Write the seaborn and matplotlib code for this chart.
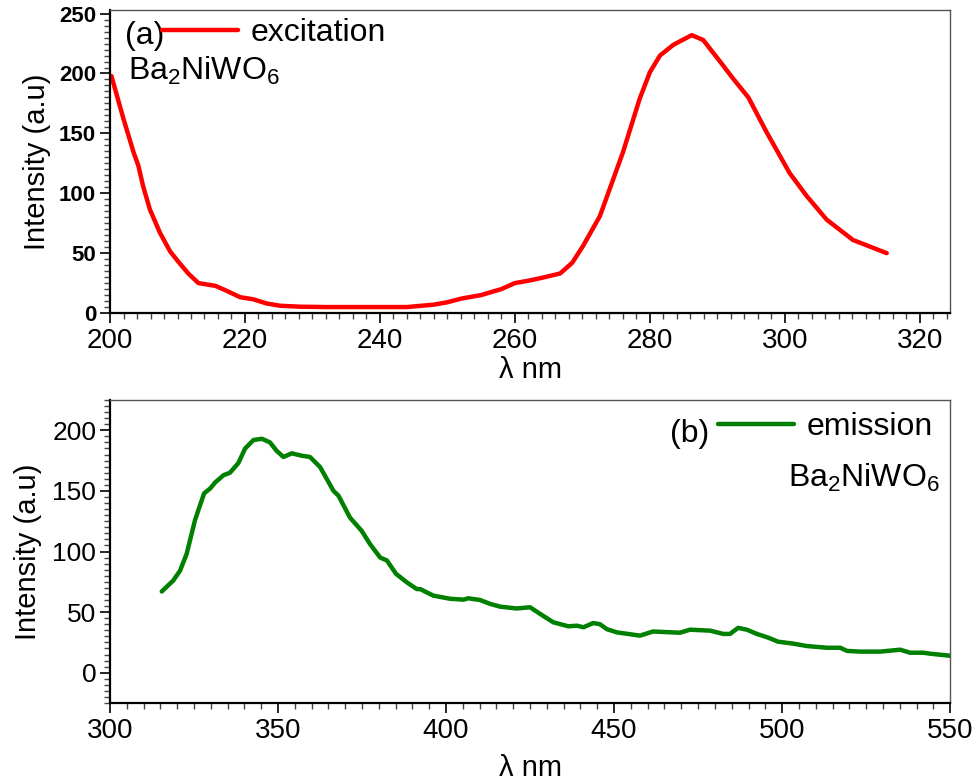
import matplotlib
matplotlib.use("Agg")
import matplotlib.pyplot as plt
import seaborn as sns
import numpy as np
import pandas as pd
from matplotlib.ticker import MultipleLocator
from matplotlib.lines import Line2D

# ---- data ----
exc_wl = [200.2, 202.0, 203.5, 204.2, 204.9, 205.9, 207.4, 208.9, 210.1, 211.6, 213.1,
          215.6, 217.0, 219.3, 221.2, 223.2, 225.2, 228.1, 232, 236, 240, 244, 248, 250,
          252, 255, 258, 260, 262, 263.7, 266.7, 268.5, 270.1, 272.6, 276.0, 278.5, 280.0,
          281.5, 283.5, 286.2, 287.9, 290.4, 292.3, 294.6, 297.3, 300.7, 303.2, 306.2,
          310.1, 315.1]
exc_int = [198, 162, 134, 123, 106, 86.6, 67, 51.5, 43, 33, 25,
           22.7, 19.3, 13.2, 11.5, 8, 6.1, 5.3, 5, 5, 5, 5, 7, 9,
           12, 15, 20, 25, 27, 29, 33, 42, 56, 81, 134, 179, 201,
           215, 224, 232, 228, 210, 196, 180, 151, 117, 98, 78,
           61, 50]

em_wl = [315.4, 316.9, 318.8, 320.8, 322.8, 325.3, 328, 329.8, 331.3, 333.8, 335.7, 338.2,
         340.2, 342.7, 345.2, 347.6, 349.6, 351.6, 354.1, 357.1, 359.5, 362.5, 366.5, 368.0,
         371.4, 374.9, 377.4, 380.4, 382.4, 385.1, 388.3, 391.3, 392.3, 396.2, 401.2, 405.2,
         406.6, 410.1, 413.1, 416.1, 421.0, 425.0, 428.0, 431.9, 436.4, 438.9, 440.9, 443.8,
         445.8, 447.8, 450.8, 457.7, 461.6, 469.6, 472.6, 478.6, 482.5, 484.5, 486.9, 489.5,
         492.5, 495.8, 498.8, 503.3, 507.4, 513.3, 517.3, 519.3, 523.2, 529.2, 535.1, 538.1,
         542, 544, 550]
em_int = [67, 71, 76, 84, 98, 126, 148, 152, 157, 163, 165, 173,
          185, 192, 193, 190, 183, 178, 181, 179, 178, 169.7, 150, 146,
          128, 117, 106, 95, 92.6, 81.6, 74.6, 69, 69, 63.6, 61, 60.3,
          61.4, 60, 56.8, 54.5, 53, 54, 48.5, 41.6, 38.3, 38.8, 37.5, 41,
          40, 36, 33.3, 30.6, 34, 33, 35.5, 34.7, 32, 32, 37, 35.5,
          32, 29, 25.6, 24, 22, 20.6, 20.6, 18, 17.4, 17.4, 19, 16.5,
          16.5, 15.7, 14]

exc_xticks = [200, 220, 240, 260, 280, 300, 320]
exc_yticks = [0, 50, 100, 150, 200, 250]
em_xticks = [300, 350, 400, 450, 500, 550]
em_yticks = [0, 50, 100, 150, 200]

# ---- style ----
sns.set_style("ticks")
plt.rcParams['font.family'] = ['Liberation Sans', 'DejaVu Sans']
plt.rcParams['mathtext.fontset'] = 'custom'
plt.rcParams['mathtext.rm'] = 'Liberation Sans'
plt.rcParams['mathtext.it'] = 'Liberation Sans:italic'
plt.rcParams['text.color'] = 'black'
plt.rcParams['axes.labelcolor'] = 'black'
plt.rcParams['xtick.color'] = 'black'
plt.rcParams['ytick.color'] = 'black'

fig = plt.figure(figsize=(9.78, 7.82), dpi=100)
ax1 = fig.add_axes([0.1125, 0.5997, 0.859, 0.3875])
ax2 = fig.add_axes([0.1125, 0.101, 0.859, 0.3875])

df1 = pd.DataFrame({"wl": exc_wl, "I": exc_int})
df2 = pd.DataFrame({"wl": em_wl, "I": em_int})
sns.lineplot(data=df1, x="wl", y="I", ax=ax1, color="#ff0000", lw=3.2)
sns.lineplot(data=df2, x="wl", y="I", ax=ax2, color="#008000", lw=3.2)


def style(ax, xlim, ylim, xt, yt, xminor, yminor, bold_y, xlabelpad, ylabelpad):
    ax.set_xlim(*xlim)
    ax.set_ylim(*ylim)
    ax.set_xticks(xt)
    ax.set_yticks(yt)
    ax.xaxis.set_minor_locator(MultipleLocator(xminor))
    ax.yaxis.set_minor_locator(MultipleLocator(yminor))
    ax.tick_params(which='major', direction='out', length=7, width=1.2, color='black')
    ax.tick_params(which='minor', direction='out', length=4, width=1.0, color='#444444')
    ax.tick_params(axis='x', labelsize=20, pad=4)
    ax.tick_params(axis='y', labelsize=16 if bold_y else 19, pad=3)
    if bold_y:
        for lab in ax.get_yticklabels():
            lab.set_fontweight('bold')
    for s in ['left', 'bottom']:
        ax.spines[s].set_color('black')
        ax.spines[s].set_linewidth(1.6)
    for s in ['top', 'right']:
        ax.spines[s].set_visible(True)
        ax.spines[s].set_color('#555555')
        ax.spines[s].set_linewidth(1.0)
    ax.set_xlabel("λ nm", fontsize=21, labelpad=xlabelpad)
    ax.set_ylabel("Intensity (a.u)", fontsize=21, labelpad=ylabelpad)


style(ax1, (200, 324.5), (0, 253), exc_xticks, exc_yticks, 2, 5, True, 1, 6)
style(ax2, (300, 550), (-25, 225), em_xticks, em_yticks, 5, 5, False, 7, 7)

FS = 23
# annotations panel (a)
ax1.text(0.018, 0.887, "(a)", transform=ax1.transAxes, fontsize=FS, va='baseline', ha='left')
ax1.legend(handles=[Line2D([], [], color="#ff0000", lw=3.2)], labels=["excitation"],
           loc='center left', bbox_to_anchor=(0.062, 0.925), frameon=False,
           fontsize=FS, handlelength=2.38, handletextpad=0.38, borderaxespad=0, borderpad=0)
ax1.text(0.021, 0.769, "Ba$_\\mathregular{2}$NiWO$_\\mathregular{6}$", transform=ax1.transAxes,
         fontsize=FS, va='baseline', ha='left')

# annotations panel (b)
ax2.text(0.667, 0.862, "(b)", transform=ax2.transAxes, fontsize=FS, va='baseline', ha='left')
ax2.legend(handles=[Line2D([], [], color="#008000", lw=3.2)], labels=["emission"],
           loc='center left', bbox_to_anchor=(0.724, 0.91), frameon=False,
           fontsize=FS, handlelength=2.38, handletextpad=0.38, borderaxespad=0, borderpad=0)
ax2.text(0.988, 0.714, "Ba$_\\mathregular{2}$NiWO$_\\mathregular{6}$", transform=ax2.transAxes,
         fontsize=FS, va='baseline', ha='right')

fig.savefig("out.png", dpi=100)
